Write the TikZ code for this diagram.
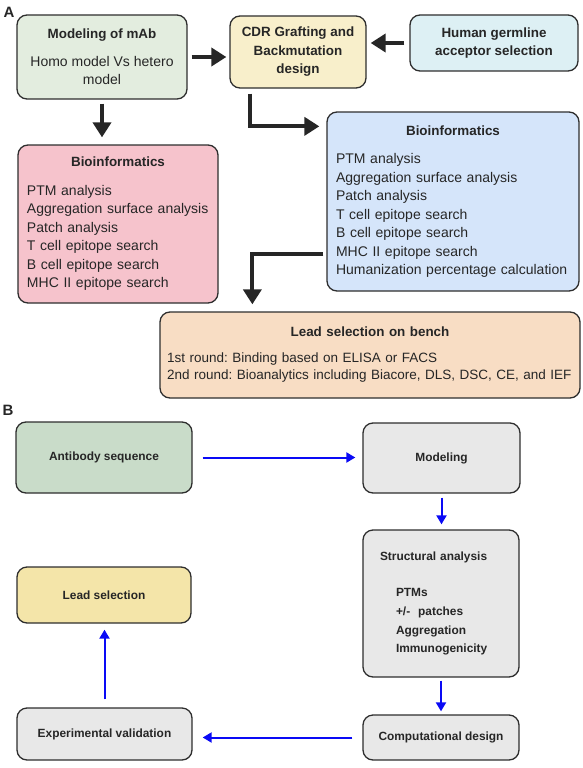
\documentclass[tikz,border=0pt]{standalone}
\usepackage{fontspec}
\setmainfont{Liberation Sans}
\usetikzlibrary{arrows.meta}
\frenchspacing

\definecolor{mabfill}{HTML}{E3EDDF}
\definecolor{cdrfill}{HTML}{F8EFCB}
\definecolor{germfill}{HTML}{DDF0F4}
\definecolor{pinkfill}{HTML}{F6C3CC}
\definecolor{bluefill}{HTML}{D5E5FA}
\definecolor{benchfill}{HTML}{F8DDC4}
\definecolor{seqfill}{HTML}{C9DCC9}
\definecolor{greyfill}{HTML}{E8E8E8}
\definecolor{leadfill}{HTML}{F4E5A9}
\definecolor{boxline}{HTML}{2E2E2E}
\definecolor{flowblue}{HTML}{0A0AF5}
\definecolor{inktext}{HTML}{262626}

\newcommand{\boxtitle}[1]{{\bfseries\fontsize{13.4}{18.5}\selectfont #1}}

\begin{document}
\begin{tikzpicture}[x=1pt,y=-1pt,
    box/.style={draw=boxline,line width=1.3pt,rounded corners=10pt,inner sep=0pt,text=inktext,
        font=\fontsize{14}{18.5}\selectfont},
    bbox/.style={box,font=\bfseries\fontsize{11.9}{18.7}\selectfont},
    heavy/.style={line width=4pt,draw=inktext,-{Triangle[length=15pt,width=18pt]}},
    flow/.style={line width=2pt,draw=flowblue,-{Triangle[length=9pt,width=10pt]}},
    panel/.style={font=\bfseries\fontsize{15}{18}\selectfont,text=inktext}]
\useasboundingbox (0,0) rectangle (583,768);

% panel A
\node [panel] (la) at (9,12) {A};
\node [box,fill=mabfill,minimum width=170pt,minimum height=84pt,align=center] (mab) at (102,57)
    {\boxtitle{Modeling of mAb}\\[9pt]Homo model Vs hetero\\model};
\node [box,fill=cdrfill,minimum width=136pt,minimum height=72pt,align=center] (cdr) at (298,52)
    {\boxtitle{CDR Grafting and}\\\boxtitle{Backmutation}\\\boxtitle{design}};
\node [box,fill=germfill,minimum width=168pt,minimum height=56pt,align=center] (germ) at (494,43)
    {\boxtitle{Human germline}\\\boxtitle{acceptor selection}};
\node [box,fill=pinkfill,minimum width=200pt,minimum height=158pt,text width=182pt,align=left] (bioL) at (118,224)
    {{\centering\boxtitle{Bioinformatics}\par}\vspace{10pt}
     PTM analysis\\Aggregation surface analysis\\Patch analysis\\T cell epitope search\\
     B cell epitope search\\MHC II epitope search};
\node [box,fill=bluefill,minimum width=252pt,minimum height=179pt,text width=234pt,align=left] (bioR) at (453,201.5)
    {{\centering\boxtitle{Bioinformatics}\par}\vspace{10pt}
     PTM analysis\\Aggregation surface analysis\\Patch analysis\\T cell epitope search\\
     B cell epitope search\\MHC II epitope search\\Humanization percentage calculation};
\node [box,fill=benchfill,minimum width=420pt,minimum height=86pt,text width=406pt,align=left,
    font=\fontsize{13.5}{17.5}\selectfont] (bench) at (370,355)
    {{\centering\boxtitle{Lead selection on bench}\par}\vspace{8pt}
     1st round: Binding based on ELISA or FACS\\
     2nd round: Bioanalytics including Biacore, DLS, DSC, CE, and IEF};

\draw [heavy,shorten <=4pt,shorten >=3pt] (mab.east) -- (mab.east -| cdr.west);
\draw [heavy,shorten <=5pt,shorten >=4pt] (germ.west) -- (germ.west -| cdr.east);
\draw [heavy,shorten <=4pt,shorten >=7pt] (mab.south) -- (mab.south |- bioL.north);
\draw [heavy,shorten <=5pt,shorten >=7pt] ([xshift=21pt]cdr.south west) |- ([yshift=-15pt]bioR.north west);
\draw [heavy,shorten <=3pt,shorten >=7pt] ([yshift=38pt]bioR.south west) -| ([xshift=93pt]bench.north west);

% panel B
\node [panel] (lb) at (8,410) {B};
\node [bbox,fill=seqfill,minimum width=176pt,minimum height=71pt] (seq) at (104,457.5) {Antibody sequence};
\node [bbox,fill=greyfill,minimum width=157pt,minimum height=70pt] (model) at (441.5,458) {Modeling};
\node [bbox,fill=greyfill,minimum width=156pt,minimum height=147pt,text width=122pt,align=left] (struct) at (441,603.5)
    {Structural analysis\\[18pt]\hspace*{16pt}PTMs\\\hspace*{16pt}+/-\ \ patches\\
     \hspace*{16pt}Aggregation\\\hspace*{16pt}Immunogenicity};
\node [bbox,fill=greyfill,minimum width=156pt,minimum height=45pt] (comp) at (441,737.5) {Computational design};
\node [bbox,fill=greyfill,minimum width=175pt,minimum height=52pt] (valid) at (104.5,734) {Experimental validation};
\node [bbox,fill=leadfill,minimum width=174pt,minimum height=56pt] (lead) at (104,595) {Lead selection};

\draw [flow,shorten <=10pt,shorten >=7pt] (seq.east) -- (seq.east -| model.west);
\draw [flow,shorten <=4pt,shorten >=5pt] (model.south) -- (model.south |- struct.north);
\draw [flow,shorten <=3pt,shorten >=3pt] (struct.south) -- (struct.south |- comp.north);
\draw [flow,shorten <=10pt,shorten >=10pt] (comp.west) -- (comp.west -| valid.east);
\draw [flow,shorten <=8pt,shorten >=6pt] (valid.north) -- (valid.north |- lead.south);
\end{tikzpicture}
\end{document}
